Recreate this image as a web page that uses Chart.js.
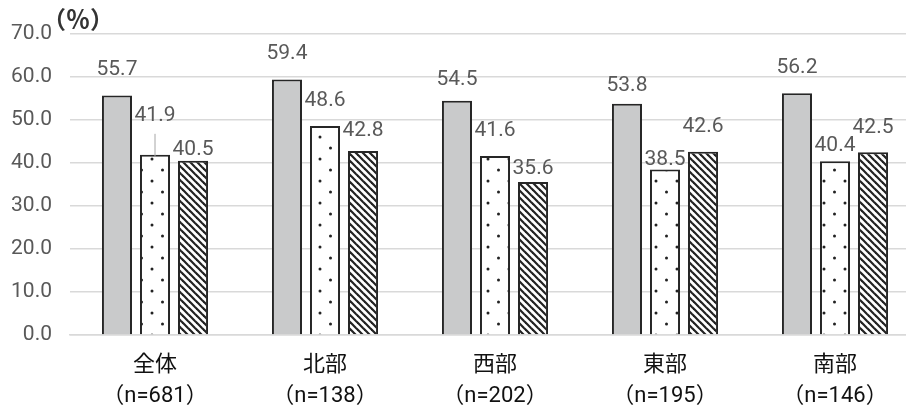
<!DOCTYPE html>
<html lang="ja">
<head>
<meta charset="utf-8">
<script src="https://cdn.jsdelivr.net/npm/chart.js@4.4.1/dist/chart.umd.min.js"></script>
<style>
  html, body { margin: 0; padding: 0; background: #fff; overflow: hidden; }
  #wrap { width: 920px; height: 409px; }
</style>
</head>
<body>
<div id="wrap"><canvas id="barChart"></canvas></div>
<script>
// chart data
const regions = ['全体', '北部', '西部', '東部', '南部'];
const sampleSizes = [681, 138, 202, 195, 146];
const series1 = [55.7, 59.4, 54.5, 53.8, 56.2];
const series2 = [41.9, 48.6, 41.6, 38.5, 40.4];
const series3 = [40.5, 42.8, 35.6, 42.6, 42.5];
const yTicks = [0, 10, 20, 30, 40, 50, 60, 70];

// how far (px) each value label sits above its bar, per series
const labelLift = [
    [26, 26, 21, 18, 26],
    [39, 25, 25, 10, 16],
    [11, 20, 13, 25, 25]
];

const fontFamily = 'Roboto, "Noto Sans CJK JP", sans-serif';

const canvas = document.getElementById('barChart');
const ctx = canvas.getContext('2d');

function makeDots() {
    const c = document.createElement('canvas');
    c.width = 21; c.height = 22;
    const g = c.getContext('2d');
    g.fillStyle = '#fff';
    g.fillRect(0, 0, 21, 22);
    g.fillStyle = '#222';
    [[5, 5], [15.5, 16]].forEach(([x, y]) => {
        g.beginPath();
        g.arc(x, y, 1.5, 0, Math.PI * 2);
        g.fill();
    });
    return ctx.createPattern(c, 'repeat');
}

function makeHatch() {
    const n = 7;
    const c = document.createElement('canvas');
    c.width = n; c.height = n;
    const g = c.getContext('2d');
    g.fillStyle = '#fff';
    g.fillRect(0, 0, n, n);
    g.strokeStyle = '#222';
    g.lineWidth = 2.2;
    for (let k = -1; k <= 1; k++) {
        g.beginPath();
        g.moveTo(k * n - 1, -1);
        g.lineTo(k * n + n + 1, n + 1);
        g.stroke();
    }
    return ctx.createPattern(c, 'repeat');
}

// value labels above bars, with a leader line when pushed far up
const valueLabels = {
    id: 'valueLabels',
    afterDatasetsDraw(chart) {
        const c = chart.ctx;
        c.save();
        c.font = '21px ' + fontFamily;
        c.fillStyle = '#595959';
        c.textAlign = 'center';
        c.textBaseline = 'middle';
        chart.data.datasets.forEach((ds, i) => {
            chart.getDatasetMeta(i).data.forEach((bar, j) => {
                const lift = labelLift[i][j];
                const y = bar.y - lift;
                c.fillText(ds.data[j].toFixed(1), bar.x, y);
                if (lift > 30) {
                    c.strokeStyle = '#a6a6a6';
                    c.lineWidth = 1;
                    c.beginPath();
                    c.moveTo(bar.x, y + 18);
                    c.lineTo(bar.x, bar.y + 2);
                    c.stroke();
                }
            });
        });
        c.restore();
    }
};

// "(%)" unit above the y axis
const unitLabel = {
    id: 'unitLabel',
    afterDraw(chart) {
        const c = chart.ctx;
        c.save();
        c.font = 'bold 24px "Noto Sans CJK JP", sans-serif';
        c.fillStyle = '#333';
        c.textAlign = 'left';
        c.textBaseline = 'middle';
        c.fillText('（％）', chart.chartArea.left - 28, 19);
        c.restore();
    }
};

const chart = new Chart(ctx, {
    type: 'bar',
    data: {
        labels: regions.map((r, i) => [r, '（n=' + sampleSizes[i] + '）']),
        datasets: [
            {
                label: '系列1',
                data: series1,
                backgroundColor: '#c9cacb',
                borderColor: '#262626',
                borderWidth: 2
            },
            {
                label: '系列2',
                data: series2,
                backgroundColor: makeDots(),
                borderColor: '#262626',
                borderWidth: 2
            },
            {
                label: '系列3',
                data: series3,
                backgroundColor: makeHatch(),
                borderColor: '#262626',
                borderWidth: 2
            }
        ]
    },
    options: {
        responsive: true,
        maintainAspectRatio: false,
        animation: false,
        layout: { padding: { top: 34, left: 0, right: 0, bottom: 0 } },
        datasets: {
            bar: { categoryPercentage: 0.671, barPercentage: 0.79 }
        },
        plugins: {
            legend: { display: false },
            tooltip: { enabled: false }
        },
        scales: {
            x: {
                grid: { display: false, drawTicks: false },
                border: { color: '#d9d9d9', width: 1.5 },
                ticks: {
                    color: '#111',
                    font: { family: fontFamily, size: 22, lineHeight: 1.4 },
                    padding: 15,
                    maxRotation: 0,
                    autoSkip: false
                },
                afterFit: s => { s.height = 74; }
            },
            y: {
                min: 0,
                max: 70,
                afterBuildTicks: s => { s.ticks = yTicks.map(v => ({ value: v })); },
                grid: { color: '#d9d9d9', lineWidth: 1.5, drawTicks: false },
                border: { display: false },
                ticks: {
                    color: '#595959',
                    font: { family: fontFamily, size: 21 },
                    padding: 18,
                    callback: v => v.toFixed(1)
                },
                afterFit: s => { s.width = 70; }
            }
        }
    },
    plugins: [valueLabels, unitLabel]
});
</script>
</body>
</html>
